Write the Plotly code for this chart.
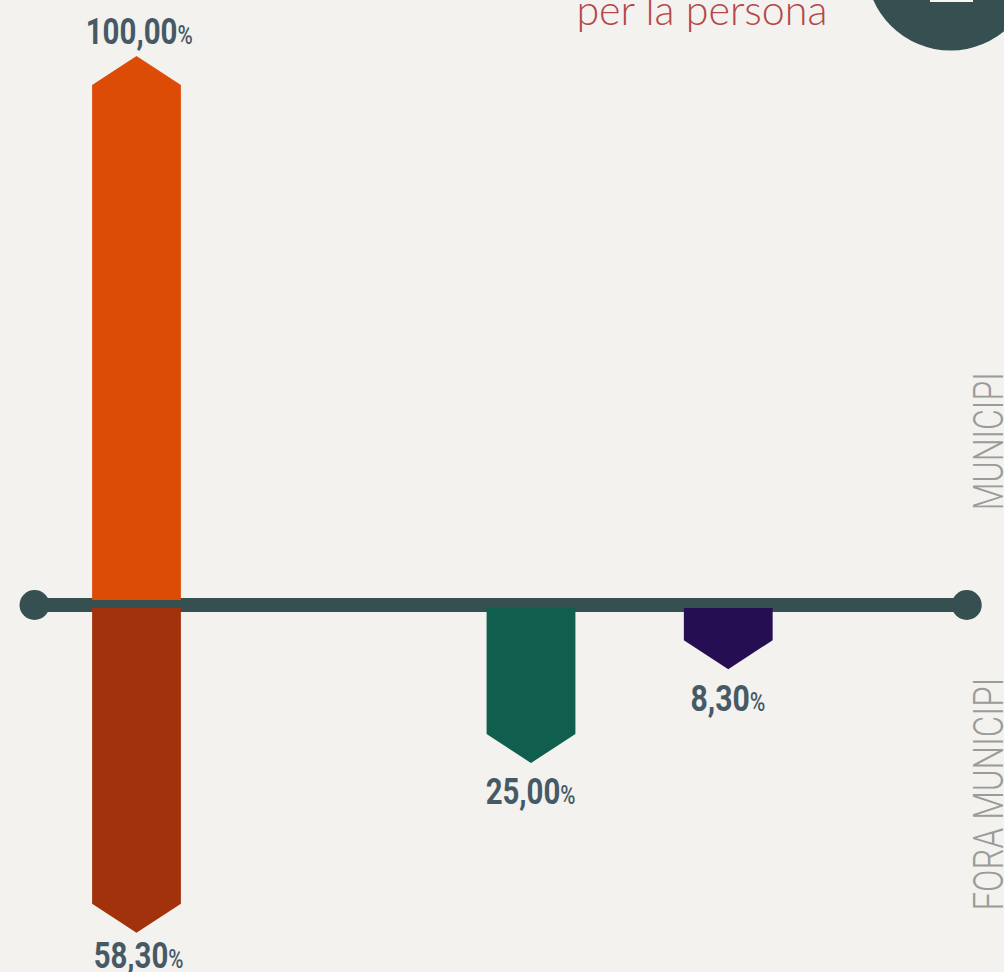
import json
import plotly.graph_objects as go

# Data
labels_up = ["100,00"]
labels_down = ["58,30", "25,00", "8,30"]
up_cat = [0]
up_reach = [100.0]
down_cat = [0, 2, 3]
down_reach = [59.0, 26.0, 7.8]
down_colors = ["#a2320c", "#0f5e4e", "#250e52"]
up_colors = ["#dd4c07"]

BG = "#f3f2ee"
LINE = "#364f50"
LABEL = "#465a66"
PX_X = 197.25
PX_Y = 5.15
ZERO_X = 136.5
ZERO_Y = 600
W, H = 1004, 972
half = 44.4 / PX_X
tip = 29 / PX_Y
gap = -8 / PX_Y

# Target rendered text widths, to imitate the condensed face of the original
text_widths = {"100,00%": 107, "58,30%": 90, "25,00%": 90, "8,30%": 75,
               "MUNICIPI": 138, "FORA MUNICIPI": 233, "per la persona": 251}

fig = go.Figure()
fig.add_trace(go.Scatter(
    x=[-0.517, 4.209], y=[-0.97, -0.97], mode="lines+markers",
    line=dict(color=LINE, width=14), marker=dict(color=LINE, size=30),
    hoverinfo="skip", showlegend=False))


def pentagon(c, start, reach, sign):
    return ([c - half, c - half, c, c + half, c + half, c - half],
            [start, sign * reach, sign * (reach + tip), sign * reach, start, start])


def label(c, y, text, yshift, xshift):
    fig.add_annotation(x=c, y=y, xref="x", yref="y", yshift=yshift, xshift=xshift, showarrow=False,
                       text=f'{text}<span style="font-size:26px;font-weight:500">%</span>',
                       font=dict(family="Roboto", size=37, color=LABEL, weight="bold"))


for c, r, col, t in zip(up_cat, up_reach, up_colors, labels_up):
    xs, ys = pentagon(c, 0, r, 1)
    fig.add_trace(go.Scatter(x=xs, y=ys, fill="toself", fillcolor=col, mode="none",
                             hoverinfo="skip", showlegend=False))
    label(c, r + tip, t, 25, 2)

shifts = [-23, -29, -29]
xshifts = [1.5, -1, -0.5]
for c, r, col, t, s, xs_ in zip(down_cat, down_reach, down_colors, labels_down, shifts, xshifts):
    xs, ys = pentagon(c, gap, r, -1)
    fig.add_trace(go.Scatter(x=xs, y=ys, fill="toself", fillcolor=col, mode="none",
                             hoverinfo="skip", showlegend=False))
    label(c, -(r + tip), t, s, xs_)

for text, cy in [("MUNICIPI", 441), ("FORA MUNICIPI", 794.5)]:
    fig.add_annotation(x=988.5 / W, y=1 - cy / H, xref="paper", yref="paper", showarrow=False,
                       textangle=-90, xanchor="center", yanchor="middle", text=text,
                       font=dict(family="Roboto", size=42, color="#9b9b99", weight=300))

fig.add_annotation(x=574.5 / W, y=1 - 9 / H, xref="paper", yref="paper", showarrow=False,
                   xanchor="left", yanchor="middle", text="per la persona",
                   font=dict(family="Lato", size=41, color="#b5474a", weight=300))

fig.add_shape(type="circle", xref="paper", yref="paper",
              x0=(950.5 - 84.3) / W, x1=(950.5 + 84.3) / W,
              y0=1 - 50.5 / H, y1=1 - (50.5 - 168.6) / H, fillcolor=LINE, line_width=0)
fig.add_shape(type="rect", xref="paper", yref="paper",
              x0=930 / W, x1=973 / W, y0=1 - 2 / H, y1=1 + 10 / H, fillcolor="#f6f6f2", line_width=0)

fig.update_layout(
    width=W, height=H, margin=dict(l=0, r=0, t=0, b=0), paper_bgcolor=BG, plot_bgcolor=BG,
    showlegend=False,
    xaxis=dict(visible=False, range=[-ZERO_X / PX_X, (W - ZERO_X) / PX_X]),
    yaxis=dict(visible=False, range=[-(H - ZERO_Y) / PX_Y, ZERO_Y / PX_Y]),
)
post = """
document.body.style.margin='0';document.body.style.overflow='hidden';document.body.style.background='#f3f2ee';
var widths = %s;
function squeeze(){
  document.querySelectorAll('.annotation-text').forEach(function(t){
    var w = widths[t.textContent]; if(!w) return;
    t.removeAttribute('transform');
    var b = t.getBBox(); var cx = b.x + b.width/2; var sx = w/b.width;
    t.setAttribute('transform','translate('+cx+',0) scale('+sx+',1) translate('+(-cx)+',0)');
  });
}
squeeze();
if(document.fonts&&document.fonts.ready){document.fonts.ready.then(squeeze);}
""" % json.dumps(text_widths)
fig.write_html("out.html", config={"displayModeBar": False}, post_script=post)
